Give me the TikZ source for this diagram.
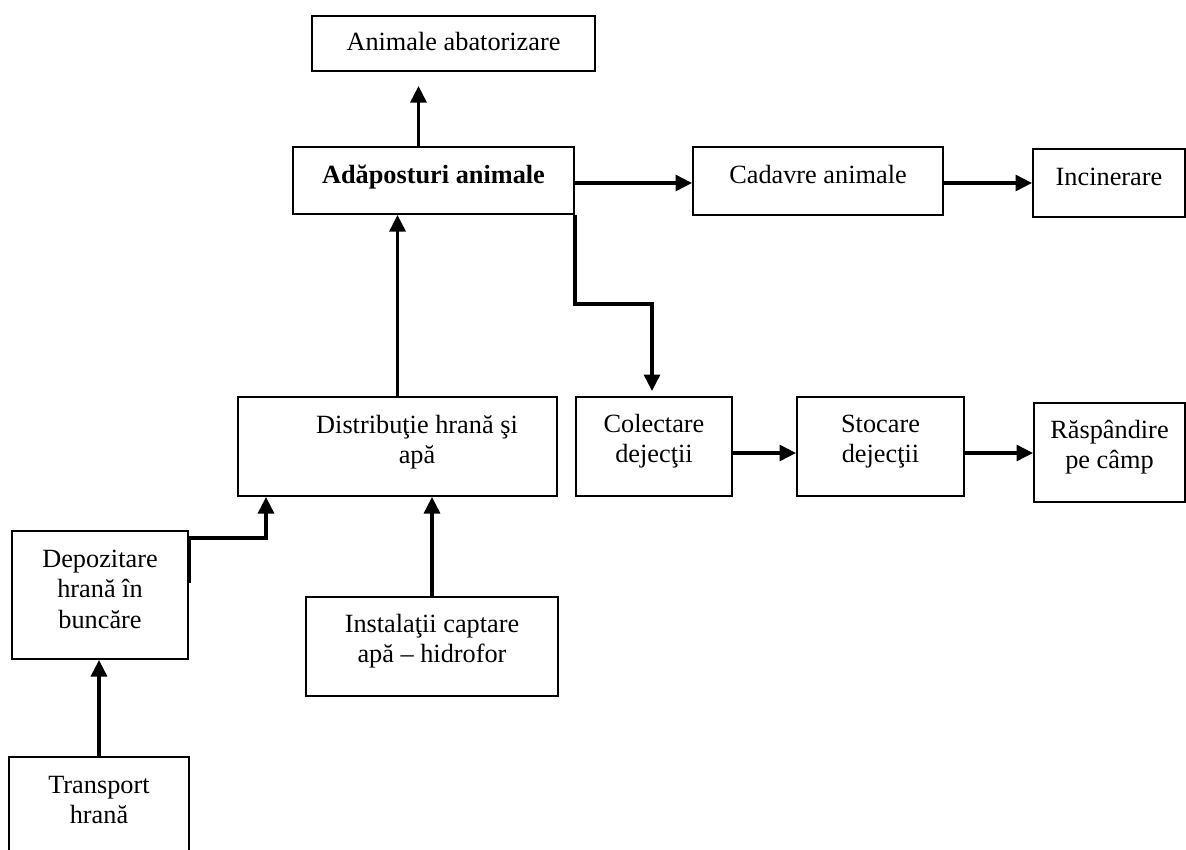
\documentclass[tikz,border=0pt]{standalone}
\usepackage{fontspec}
\setmainfont{Liberation Serif}
\usetikzlibrary{arrows.meta}
\begin{document}
\begin{tikzpicture}[x=1pt,y=-1pt,
  box/.style={draw, line width=2pt, inner sep=0pt, align=center,
    font=\fontsize{26.3}{30.5}\selectfont},
  arr/.style={line width=3.1pt, -{Triangle[length=16.5pt,width=16pt]}}]
\fill[white] (0,0) rectangle (1186,849);
\useasboundingbox (0,0) rectangle (1186,849);

% boxes
\node[box, minimum width=283pt, minimum height=55pt, text height=34pt, text depth=21pt]
  (abat) at (453.5,43.5) {Animale abatorizare};
\node[box, minimum width=281pt, minimum height=67pt, text height=36pt, text depth=31pt, font=\fontsize{26.3}{30.5}\selectfont\bfseries]
  (adap) at (433.5,180.5) {Adăposturi animale};
\node[box, minimum width=250pt, minimum height=68pt, text height=36pt, text depth=32pt]
  (cad) at (818,181) {Cadavre animale};
\node[box, minimum width=152pt, minimum height=68pt, text height=36pt, text depth=32pt]
  (inc) at (1109,183) {Incinerare};
\node[box, minimum width=319pt, minimum height=99pt, text height=66.5pt, text depth=32.5pt]
  (dist) at (397.5,446.5) {\hspace*{39pt}Distribuţie hrană şi\\\hspace*{39pt}apă};
\node[box, minimum width=156pt, minimum height=99pt, text height=65.5pt, text depth=33.5pt]
  (colect) at (654,446.5) {Colectare\\dejecţii};
\node[box, minimum width=167pt, minimum height=99pt, text height=65.5pt, text depth=33.5pt]
  (stoc) at (880.5,446.5) {Stocare\\dejecţii};
\node[box, minimum width=151pt, minimum height=99pt, text height=65.5pt, text depth=33.5pt]
  (rasp) at (1109.5,452.5) {Răspândire\\pe câmp};
\node[box, minimum width=176pt, minimum height=128pt, text height=97pt, text depth=31pt]
  (dep) at (100,595) {Depozitare\\hrană în\\buncăre};
\node[box, minimum width=252pt, minimum height=99pt, text height=65.5pt, text depth=33.5pt]
  (inst) at (432,646.5) {Instalaţii captare\\apă – hidrofor};
\node[box, minimum width=180pt, minimum height=128pt, text height=66.5pt, text depth=61.5pt]
  (trans) at (99,821) {Transport\\hrană};

% helper coordinates
\coordinate (xa) at (418.5,0);
\coordinate (turn) at (652,304);
\coordinate (dj) at (266,538);

% connectors
\draw[arr, shorten >=14pt] (adap.north -| xa) -- (abat.south -| xa);
\draw[arr] ([yshift=-2.5pt]adap.east) -- ([yshift=-2.5pt]adap.east -| cad.west);
\draw[arr] ([yshift=-2pt]cad.east) -- ([yshift=-2pt]cad.east -| inc.west);
\draw[arr] (dist.north) -- (dist.north |- adap.south);
\draw[arr, shorten >=5pt] (adap.south east) -- (adap.south east |- turn) -- (turn) -- (turn |- colect.north);
\draw[arr] ([yshift=-6.5pt]colect.east) -- ([yshift=-6.5pt]colect.east -| stoc.west);
\draw[arr] ([yshift=-6.5pt]stoc.east) -- ([yshift=-6.5pt]stoc.east -| rasp.west);
\draw[arr] (inst.north) -- (inst.north |- dist.south);
\draw[arr] ([yshift=12pt]dep.east) -- (dep.east |- dj) -- (dj) -- (dj |- dist.south);
\draw[arr] (trans.north) -- (trans.north |- dep.south);
\end{tikzpicture}
\end{document}
